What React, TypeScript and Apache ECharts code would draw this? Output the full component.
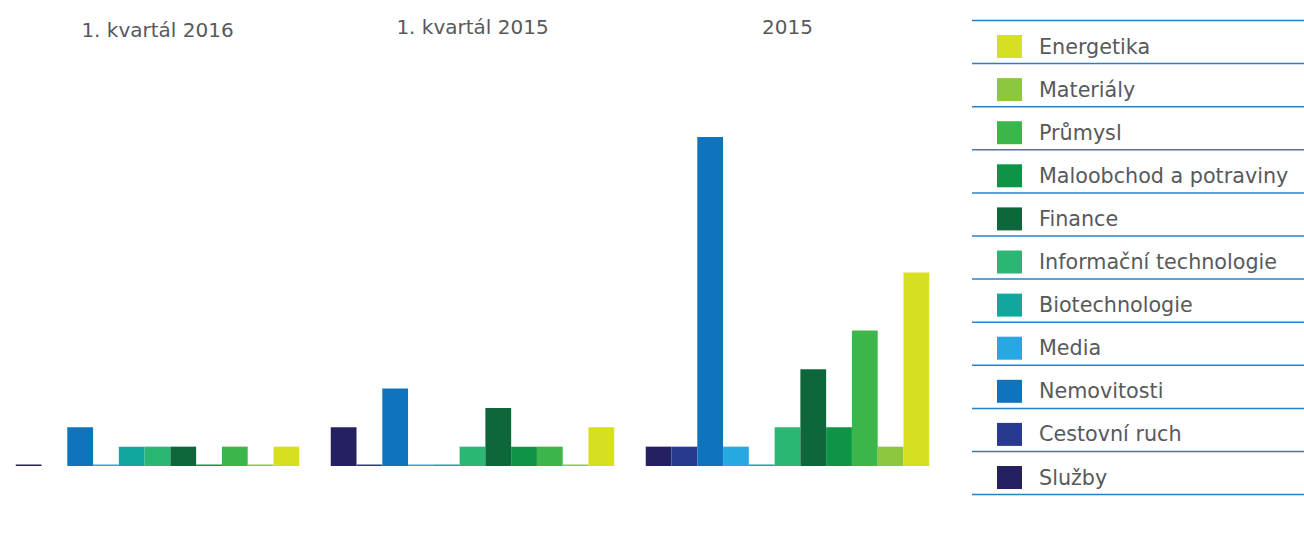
import React, { useEffect, useRef } from "react";
import * as echarts from "echarts";

const categories = ["1. kvartál 2016", "1. kvartál 2015", "2015"];

const seriesNames = [
  "Služby",
  "Cestovní ruch",
  "Nemovitosti",
  "Media",
  "Biotechnologie",
  "Informační technologie",
  "Finance",
  "Maloobchod a potraviny",
  "Průmysl",
  "Materiály",
  "Energetika",
];

const sluzby = [0, 2, 1];
const cestovniRuch = [null, 0, 1];
const nemovitosti = [2, 4, 17];
const media = [0, 0, 1];
const biotechnologie = [1, 0, 0];
const informacniTechnologie = [1, 1, 2];
const finance = [1, 3, 5];
const maloobchod = [0, 1, 2];
const prumysl = [1, 1, 7];
const materialy = [0, 0, 1];
const energetika = [1, 2, 10];

const seriesValues = [
  sluzby,
  cestovniRuch,
  nemovitosti,
  media,
  biotechnologie,
  informacniTechnologie,
  finance,
  maloobchod,
  prumysl,
  materialy,
  energetika,
];

const colors = [
  "#252060",
  "#283a8f",
  "#1074bc",
  "#25a9e0",
  "#12a79d",
  "#2bb673",
  "#0e673a",
  "#0e9447",
  "#3cb64a",
  "#8dc63f",
  "#d7df21",
];

export default function App() {
  const ref = useRef<HTMLDivElement>(null);
  useEffect(() => {
    if (!ref.current) return;
    const chart = echarts.init(ref.current, undefined, { renderer: "svg" });
    const font = "DejaVu Sans";
    const lines: any[] = [];
    for (let i = 0; i < 12; i++) {
      const y = 20.5 + 43.1 * i;
      lines.push({
        type: "line",
        shape: { x1: 972, y1: y, x2: 1304, y2: y },
        style: { stroke: "#2a80c8", lineWidth: 1.5 },
        silent: true,
      });
    }
    chart.setOption({
      animation: false,
      color: colors,
      grid: { left: 0, right: 359, top: 79, bottom: 79, containLabel: false },
      xAxis: {
        type: "category",
        position: "top",
        data: categories,
        axisLine: { show: false },
        axisTick: { show: false },
        axisLabel: {
          margin: 39,
          color: "#58595b",
          fontSize: 20,
          fontFamily: font,
          formatter: (v: string, i: number) => (i === 0 ? `{a|${v}}` : `{b|${v}}`),
          rich: {
            a: { lineHeight: 20, fontSize: 20, fontFamily: font, color: "#58595b" },
            b: { lineHeight: 26, fontSize: 20, fontFamily: font, color: "#58595b" },
          },
        },
      },
      yAxis: {
        type: "value",
        min: 0,
        max: 20,
        show: false,
        splitLine: { show: false },
      },
      legend: {
        orient: "vertical",
        left: 992,
        top: 30,
        itemWidth: 25,
        itemHeight: 23,
        itemGap: 20.1,
        icon: "rect",
        data: seriesNames.slice().reverse(),
        textStyle: {
          color: "#58595b",
          fontSize: 20.7,
          fontFamily: font,
          padding: [0, 0, 0, 12],
        },
      },
      graphic: lines,
      series: seriesNames.map((name, i) => ({
        name,
        type: "bar",
        data: seriesValues[i],
        barGap: "0%",
        barCategoryGap: "10%",
        barMinHeight: 1.5,
        itemStyle: { color: colors[i] },
      })),
    });
    return () => chart.dispose();
  }, []);
  return (
    <div
      ref={ref}
      style={{ position: "absolute", left: 0, top: 0, width: 1304, height: 545 }}
    />
  );
}
